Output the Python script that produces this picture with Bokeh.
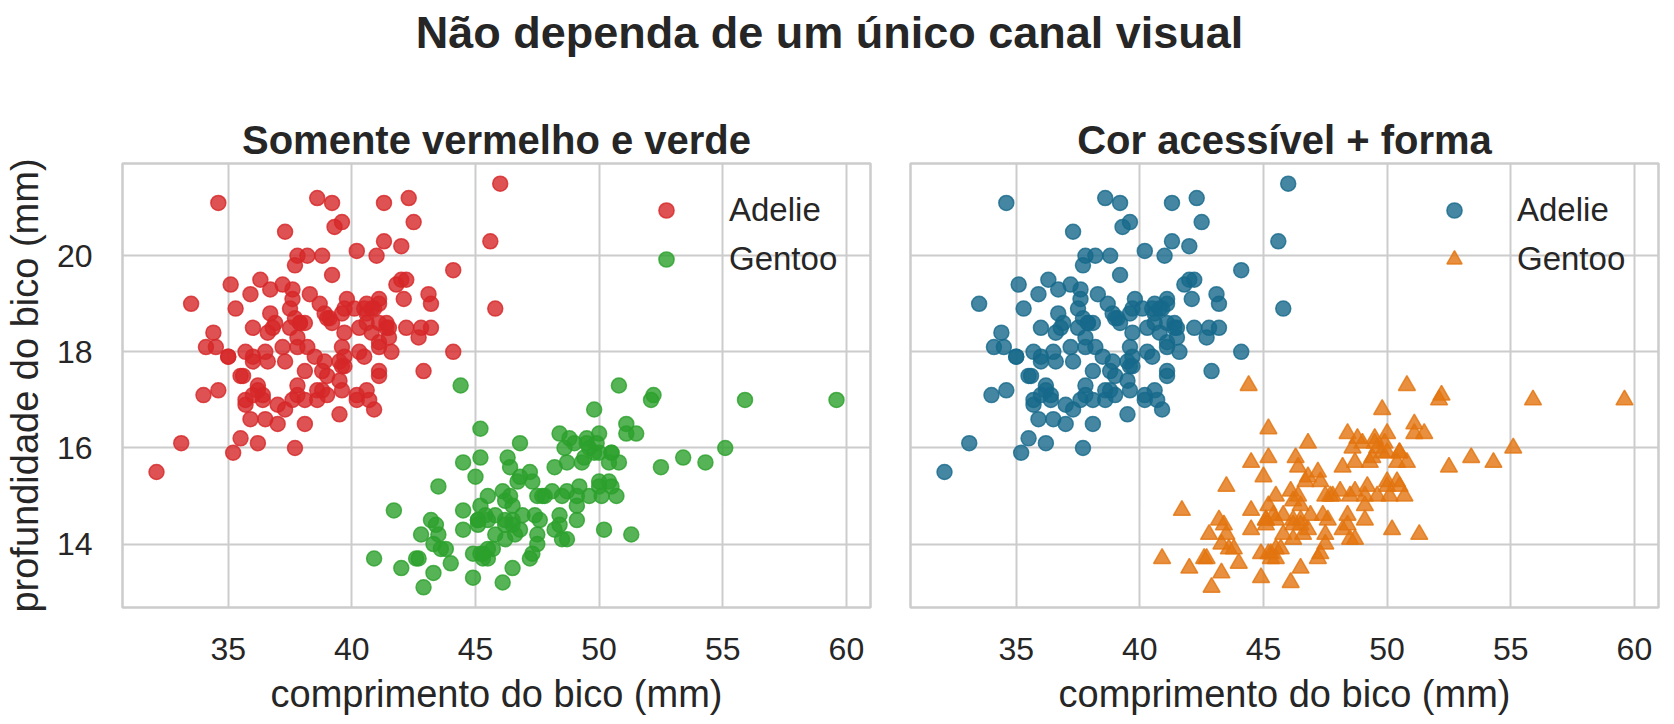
from bokeh.plotting import figure
from bokeh.layouts import column, row
from bokeh.models import Range1d, FixedTicker, Legend, LegendItem, Label
from bokeh.embed import file_html
from bokeh.resources import INLINE

# bill length / bill depth (mm)
adelie_len = [
    39.1, 39.5, 40.3, 36.7, 39.3, 38.9, 39.2, 34.1, 42.0, 37.8,
    37.8, 41.1, 38.6, 34.6, 36.6, 38.7, 42.5, 34.4, 46.0, 37.8,
    37.7, 35.9, 38.2, 38.8, 35.3, 40.6, 40.5, 37.9, 40.5, 39.5,
    37.2, 39.5, 40.9, 36.4, 39.2, 38.8, 42.2, 37.6, 39.8, 36.5,
    40.8, 36.0, 44.1, 37.0, 39.6, 41.1, 37.5, 36.0, 42.3, 39.6,
    40.1, 35.0, 42.0, 34.5, 41.4, 39.0, 40.6, 36.5, 37.6, 35.7,
    41.3, 37.6, 41.1, 36.4, 41.6, 35.5, 41.1, 35.9, 41.8, 33.5,
    39.7, 39.6, 45.8, 35.5, 42.8, 40.9, 37.2, 36.2, 42.1, 34.6,
    42.9, 36.7, 35.1, 37.3, 41.3, 36.3, 36.9, 38.3, 38.9, 35.7,
    41.1, 34.0, 39.6, 36.2, 40.8, 38.1, 40.3, 33.1, 43.2, 35.0,
    41.0, 37.7, 37.8, 37.9, 39.7, 38.6, 38.2, 38.1, 43.2, 38.1,
    45.6, 39.7, 42.2, 39.6, 42.7, 38.6, 37.3, 35.7, 41.1, 36.2,
    37.7, 40.2, 41.4, 35.2, 40.6, 38.8, 41.5, 39.0, 44.1, 38.5,
    43.1, 36.8, 37.5, 38.1, 41.1, 35.6, 40.2, 37.0, 39.7, 40.2,
    40.6, 32.1, 40.7, 37.3, 39.0, 39.2, 36.6, 36.0, 37.8, 36.0,
    41.5,
]
adelie_dep = [
    18.7, 17.4, 18.0, 19.3, 20.6, 17.8, 19.6, 18.1, 20.2, 17.1,
    17.3, 17.6, 21.2, 21.1, 17.8, 19.0, 20.7, 18.4, 21.5, 18.3,
    18.7, 19.2, 18.1, 17.2, 18.9, 18.6, 17.9, 18.6, 18.9, 16.7,
    18.1, 17.8, 18.9, 17.0, 21.1, 20.0, 18.5, 19.3, 19.1, 18.0,
    18.4, 18.5, 19.7, 16.9, 18.8, 19.0, 18.9, 17.9, 21.2, 17.7,
    18.9, 17.9, 19.5, 18.1, 18.6, 17.5, 18.8, 16.6, 19.1, 16.9,
    21.1, 17.0, 18.2, 17.1, 18.0, 16.2, 19.1, 16.6, 19.4, 19.0,
    18.4, 17.2, 18.9, 17.5, 18.5, 16.8, 19.4, 16.1, 19.1, 17.2,
    17.6, 18.8, 19.4, 17.8, 20.3, 19.5, 18.6, 19.2, 18.8, 18.0,
    18.1, 17.1, 18.1, 17.3, 18.9, 18.6, 18.5, 16.1, 18.5, 17.9,
    20.0, 16.0, 20.0, 18.6, 18.9, 17.2, 20.0, 17.0, 19.0, 16.5,
    20.3, 17.7, 19.5, 20.7, 18.3, 17.0, 20.5, 17.0, 18.6, 17.2,
    19.8, 17.0, 18.5, 15.9, 19.0, 17.6, 18.3, 17.1, 18.0, 17.9,
    19.2, 18.5, 18.5, 17.6, 17.5, 17.5, 20.1, 16.5, 17.9, 17.1,
    17.2, 15.5, 17.0, 16.8, 18.7, 18.6, 18.4, 17.8, 18.1, 17.1,
    18.5,
]
gentoo_len = [
    46.1, 50.0, 48.7, 50.0, 47.6, 46.5, 45.4, 46.7, 43.3, 46.8,
    40.9, 49.0, 45.5, 48.4, 45.8, 49.3, 42.0, 49.2, 46.2, 48.7,
    50.2, 45.1, 46.5, 46.3, 42.9, 46.1, 44.5, 47.8, 48.2, 50.0,
    47.3, 42.8, 45.1, 59.6, 49.1, 48.4, 42.6, 44.4, 44.0, 48.7,
    42.7, 49.6, 45.3, 49.6, 50.5, 43.6, 45.5, 50.5, 44.9, 45.2,
    46.6, 48.5, 45.1, 50.1, 46.5, 45.0, 43.8, 45.5, 43.2, 50.4,
    45.3, 46.2, 45.7, 54.3, 45.8, 49.8, 46.2, 49.5, 43.5, 50.7,
    47.7, 46.4, 48.2, 46.5, 46.4, 48.6, 47.5, 51.1, 45.2, 45.2,
    49.1, 52.5, 47.4, 50.0, 44.9, 50.8, 43.4, 51.3, 47.5, 52.1,
    47.5, 52.2, 45.5, 49.5, 44.5, 50.8, 49.4, 46.9, 48.4, 51.1,
    48.5, 55.9, 47.2, 49.1, 47.3, 46.8, 41.7, 53.4, 43.3, 48.1,
    50.5, 49.8, 43.5, 51.5, 46.2, 55.1, 44.5, 48.8, 47.2, 46.8,
    50.4, 45.2, 49.9,
]
gentoo_dep = [
    13.2, 16.3, 14.1, 15.2, 14.5, 13.5, 14.6, 15.3, 13.4, 15.4,
    13.7, 16.1, 13.7, 14.6, 14.6, 15.7, 13.5, 15.2, 14.5, 15.1,
    14.3, 14.5, 14.5, 15.8, 13.1, 15.1, 14.3, 15.0, 14.3, 15.3,
    15.3, 14.2, 14.5, 17.0, 14.8, 16.3, 13.7, 17.3, 13.6, 15.7,
    13.7, 16.0, 13.7, 15.0, 15.9, 13.9, 13.9, 15.9, 13.3, 15.8,
    14.2, 14.1, 14.4, 15.0, 14.4, 15.4, 13.9, 15.0, 14.5, 15.3,
    13.8, 14.9, 13.9, 15.7, 14.2, 16.8, 14.4, 16.2, 14.2, 15.0,
    15.0, 15.6, 15.6, 14.8, 15.0, 16.0, 14.2, 16.3, 13.8, 16.4,
    14.5, 15.6, 14.6, 15.9, 13.8, 17.3, 14.4, 14.2, 14.0, 17.0,
    15.0, 17.1, 14.5, 16.1, 14.7, 15.7, 15.8, 14.6, 14.4, 16.5,
    15.0, 17.0, 15.5, 15.0, 13.8, 16.1, 14.7, 15.8, 14.0, 15.1,
    15.2, 15.9, 15.2, 16.3, 14.1, 16.0, 15.7, 16.2, 13.7, 14.3,
    15.7, 14.8, 16.1,
]

species = ["Adelie", "Gentoo"]
x_ticks = [35, 40, 45, 50, 55, 60]
y_ticks = [14, 16, 18, 20]

main_title = "Não dependa de um único canal visual"
titles = ["Somente vermelho e verde", "Cor acessível + forma"]
x_label = "comprimento do bico (mm)"
y_label = "profundidade do bico (mm)"

FONT = "Liberation Sans"
INK = "#262626"
GRID = "#cccccc"


def padded(vals_a, vals_b, frac=0.05):
    lo = min(min(vals_a), min(vals_b))
    hi = max(max(vals_a), max(vals_b))
    pad = (hi - lo) * frac
    return Range1d(lo - pad, hi + pad)


x_range = padded(adelie_len, gentoo_len)
y_range = padded(adelie_dep, gentoo_dep)


def panel(title, left_border, right_border, show_y):
    p = figure(frame_width=748, frame_height=444,
               x_range=x_range, y_range=y_range,
               min_border_left=left_border, min_border_right=right_border,
               min_border_top=60, min_border_bottom=20,
               output_backend="svg", toolbar_location=None, tools="")
    p.title.text = title
    p.title.align = "center"
    p.title.text_font = FONT
    p.title.text_font_size = "40px"
    p.title.text_font_style = "bold"
    p.title.text_color = INK
    p.title.standoff = 3

    p.outline_line_color = GRID
    p.outline_line_width = 2.5
    p.background_fill_color = "white"
    p.border_fill_color = "white"

    for ax in (p.xaxis, p.yaxis):
        ax.axis_line_color = None
        ax.major_tick_line_color = None
        ax.minor_tick_line_color = None
        ax.major_label_text_font = FONT
        ax.major_label_text_font_size = "32px"
        ax.major_label_text_color = INK
        ax.major_label_standoff = 24
        ax.axis_label_text_font = FONT
        ax.axis_label_text_font_size = "38px"
        ax.axis_label_text_font_style = "normal"
        ax.axis_label_text_color = INK

    p.xaxis.ticker = FixedTicker(ticks=x_ticks)
    p.yaxis.ticker = FixedTicker(ticks=y_ticks)
    p.xgrid.ticker = FixedTicker(ticks=x_ticks)
    p.ygrid.ticker = FixedTicker(ticks=y_ticks)
    p.xaxis.axis_label = x_label
    p.xaxis.axis_label_standoff = 10
    if show_y:
        p.yaxis.axis_label = y_label
        p.yaxis.axis_label_standoff = 8
    else:
        p.yaxis.visible = False

    for g in (p.xgrid, p.ygrid):
        g.grid_line_color = GRID
        g.grid_line_width = 2
    return p


def add_points(p, colors, markers, sizes):
    items = []
    data = [(adelie_len, adelie_dep), (gentoo_len, gentoo_dep)]
    for name, (xs, ys), c, m, s in zip(species, data, colors, markers, sizes):
        r = p.scatter(xs, ys, marker=m, size=s,
                      fill_color=c, fill_alpha=0.8,
                      line_color=c, line_alpha=0.8, line_width=1.5)
        items.append(LegendItem(label=name, renderers=[r]))
    leg = Legend(items=items, location=(525, 328),
                 glyph_width=38, glyph_height=40, label_height=40,
                 label_standoff=44, spacing=9, padding=0, margin=0,
                 border_line_color=None, background_fill_alpha=0,
                 label_text_font=FONT, label_text_font_size="33px",
                 label_text_color=INK)
    p.add_layout(leg)


p1 = panel(titles[0], 115, 20, True)
add_points(p1, ["#d62728", "#2ca02c"], ["circle", "circle"], [15, 15])

p2 = panel(titles[1], 20, 7, False)
add_points(p2, ["#16698b", "#e2740f"], ["circle", "triangle"], [15, 17])

head = figure(width=1658, height=103, min_border=0,
              output_backend="svg", toolbar_location=None, tools="",
              x_axis_location=None, y_axis_location=None)
head.outline_line_color = None
head.xgrid.visible = False
head.ygrid.visible = False
head.add_layout(Label(x=829, y=71, x_units="screen", y_units="screen",
                      text=main_title, text_align="center",
                      text_baseline="alphabetic", text_font=FONT,
                      text_font_size="45px", text_font_style="bold",
                      text_color=INK))

layout = column(head, row(p1, p2))
open("out.html", "w").write(file_html(layout, INLINE))
